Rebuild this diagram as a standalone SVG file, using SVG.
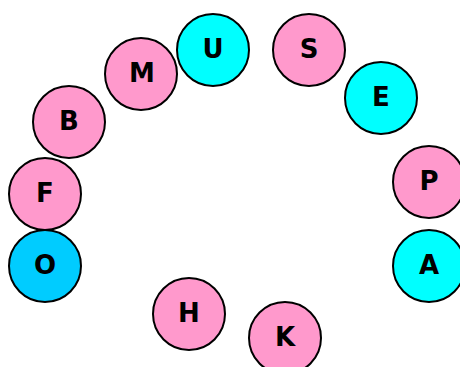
<svg xmlns="http://www.w3.org/2000/svg" width="460" height="367" viewBox="0 0 460 367">
<style>
circle{stroke:#000;stroke-width:2}
.p{fill:#ff99cc}
.c{fill:#00ffff}
.o{fill:#00ccff}
text{font-family:"DejaVu Sans",sans-serif;font-weight:bold;font-size:26px;text-anchor:middle;fill:#000}
</style>
<rect width="460" height="367" fill="#fff"/>
<g id="connectors"></g>
<g id="U"><circle class="c" cx="213" cy="50" r="36"/><text x="213" y="57.5">U</text></g>
<g id="S"><circle class="p" cx="309" cy="50" r="36"/><text x="309" y="57.5">S</text></g>
<g id="M"><circle class="p" cx="141" cy="74" r="36"/><text x="142" y="81.5">M</text></g>
<g id="E"><circle class="c" cx="381" cy="98" r="36"/><text x="381" y="105.5">E</text></g>
<g id="B"><circle class="p" cx="69" cy="122" r="36"/><text x="69" y="129.5">B</text></g>
<g id="P"><circle class="p" cx="429" cy="182" r="36"/><text x="429" y="189.5">P</text></g>
<g id="F"><circle class="p" cx="45" cy="194" r="36"/><text x="45" y="201.5">F</text></g>
<g id="O"><circle class="o" cx="45" cy="266" r="36"/><text x="45" y="273.5">O</text></g>
<g id="A"><circle class="c" cx="429" cy="266" r="36"/><text x="429" y="273.5">A</text></g>
<g id="H"><circle class="p" cx="189" cy="314" r="36"/><text x="189" y="321.5">H</text></g>
<g id="K"><circle class="p" cx="285" cy="338" r="36"/><text x="285" y="345.5">K</text></g>
</svg>
